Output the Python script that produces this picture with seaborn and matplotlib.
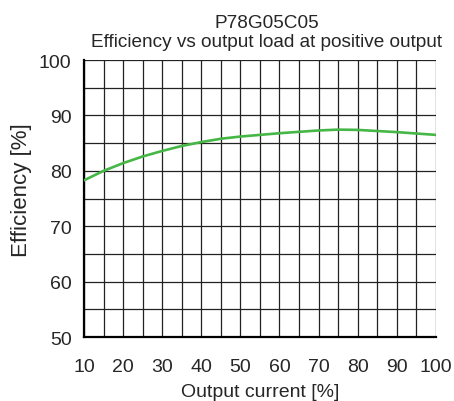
"""
Efficiency versus output load chart for the P78G05C05 converter.
"""

import matplotlib.pyplot as plt
import pandas as pd
import seaborn as sns
from matplotlib.ticker import MultipleLocator

# Values
load_pct = [10, 15, 20, 25, 30, 35, 40, 45, 50, 60, 70, 75, 80, 90, 100]
efficiency_pct = [78.3, 80.0, 81.4, 82.6, 83.6, 84.5, 85.2, 85.8, 86.2,
                  86.8, 87.3, 87.45, 87.4, 87.0, 86.5]
x_ticks = [10, 20, 30, 40, 50, 60, 70, 80, 90, 100]
y_ticks = [50, 60, 70, 80, 90, 100]


def main():
    """
    Draw the efficiency curve on a dense grid and save it as out.png.
    """
    df = pd.DataFrame({'load': load_pct, 'eff': efficiency_pct})

    sns.set_style('white')
    plt.rcParams['font.family'] = ['Liberation Sans', 'DejaVu Sans']

    fig = plt.figure(figsize=(4.54, 4.02), dpi=100)
    ax = fig.add_axes([0.185, 0.159, 0.775, 0.689])

    sns.lineplot(data=df, x='load', y='eff', ax=ax, color='#46b646',
                 linewidth=1.9, zorder=3)

    ax.set_xlim(10, 100)
    ax.set_ylim(50, 100)
    ax.set_xticks(x_ticks)
    ax.set_yticks(y_ticks)
    ax.xaxis.set_minor_locator(MultipleLocator(5))
    ax.yaxis.set_minor_locator(MultipleLocator(5))

    # Black grid at every 5 units
    ax.grid(which='both', color='#222222', linewidth=0.9)
    ax.set_axisbelow(True)
    ax.tick_params(which='both', length=0, labelsize=14)
    ax.tick_params(axis='x', pad=15)
    ax.tick_params(axis='y', pad=9)

    for side in ['top', 'right']:
        ax.spines[side].set_visible(False)
    for side in ['left', 'bottom']:
        ax.spines[side].set_color('black')
        ax.spines[side].set_linewidth(1.6)

    ax.set_xlabel('Output current [%]', fontsize=14)
    ax.xaxis.set_label_coords(0.5, -0.166)
    ax.set_ylabel('Efficiency [%]', fontsize=16)
    ax.yaxis.set_label_coords(-0.148, 0.534)
    ax.set_title('P78G05C05\nEfficiency vs output load at positive output',
                 fontsize=13.7, pad=10, x=0.52, linespacing=1.15)

    fig.savefig('out.png', dpi=100)


if __name__ == '__main__':
    main()
